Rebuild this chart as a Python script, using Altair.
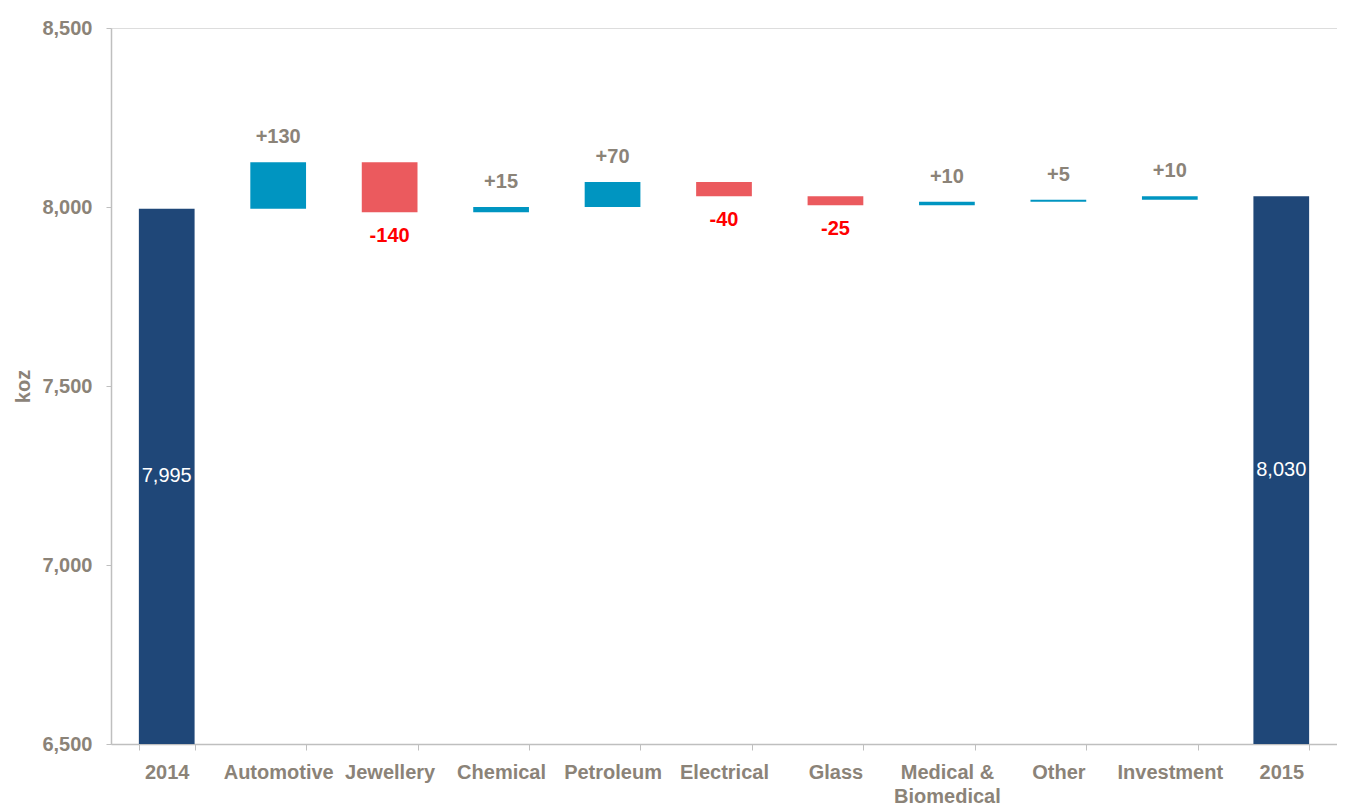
import altair as alt
import pandas as pd

categories = ["2014", "Automotive", "Jewellery", "Chemical", "Petroleum", "Electrical",
              "Glass", "Medical & Biomedical", "Other", "Investment", "2015"]
deltas = [7995, 130, -140, 15, 70, -40, -25, 10, 5, 10, 8030]
kinds = ["total", "change", "change", "change", "change", "change",
         "change", "change", "change", "change", "total"]

rows = []
running = 0
for cat, d, k in zip(categories, deltas, kinds):
    if k == "total":
        start, end = 6500, d
        running = d
        label = f"{d:,}"
        kind = "total"
    else:
        start, end = running, running + d
        running = end
        label = f"+{d}" if d > 0 else f"{d}"
        kind = "pos" if d > 0 else "neg"
    rows.append({"cat": cat, "start": start, "end": end, "label": label, "kind": kind,
                 "top": max(start, end), "bottom": min(start, end),
                 "mid": (start + end) / 2})
df = pd.DataFrame(rows)

GREY = "#8B8378"
FONT = "Liberation Sans"

x = alt.X("cat:N", sort=categories,
          scale=alt.Scale(paddingInner=0.5, paddingOuter=0.25),
          axis=alt.Axis(title=None, labelAngle=0, labelFont=FONT, labelFontSize=20,
                        labelFontWeight="bold", labelColor=GREY, labelPadding=12,
                        tickBand="extent", tickSize=6, tickColor="#BFBFBF",
                        domainColor="#BFBFBF", domainWidth=1.5, labelLimit=300,
                        labelExpr="datum.value == 'Medical & Biomedical' ? ['Medical &', 'Biomedical'] : datum.value",
                        labelLineHeight=24))

base = alt.Chart(df)

bars = base.mark_bar().encode(
    x=x,
    y=alt.Y("start:Q", scale=alt.Scale(domain=[6500, 8500], nice=False, zero=False),
            axis=alt.Axis(title="koz", values=[6500, 7000, 7500, 8000, 8500], format=",.0f",
                          grid=False, labelFont=FONT, labelFontSize=20, labelFontWeight="bold",
                          labelColor=GREY, labelPadding=14, tickSize=5, tickColor="#BFBFBF",
                          domainColor="#BFBFBF", domainWidth=1.5,
                          titleFont=FONT, titleFontSize=20, titleFontWeight="bold",
                          titleColor=GREY, titlePadding=8)),
    y2="end:Q",
    color=alt.Color("kind:N",
                    scale=alt.Scale(domain=["total", "pos", "neg"],
                                    range=["#1F4778", "#0095C1", "#EB5A5E"]),
                    legend=None),
)

pos_labels = base.transform_filter("datum.kind == 'pos'").mark_text(
    baseline="bottom", dy=-15, font=FONT, fontSize=20, fontWeight="bold", color=GREY
).encode(x=alt.X("cat:N", sort=categories), y="top:Q", text="label:N")

neg_labels = base.transform_filter("datum.kind == 'neg'").mark_text(
    baseline="top", dy=14, font=FONT, fontSize=20, fontWeight="bold", color="#FF0000"
).encode(x=alt.X("cat:N", sort=categories), y="bottom:Q", text="label:N")

tot_labels = base.transform_filter("datum.kind == 'total'").mark_text(
    baseline="middle", font=FONT, fontSize=20, color="white"
).encode(x=alt.X("cat:N", sort=categories), y="mid:Q", text="label:N")

chart = alt.layer(bars, pos_labels, neg_labels, tot_labels).properties(
    width=1226, height=716,
    padding={"left": 5, "top": 10, "right": 0, "bottom": 0}
).configure_view(stroke="transparent", strokeWidth=0).configure(background="white")

chart.save("out.html", embed_options={"renderer": "svg", "actions": False})
